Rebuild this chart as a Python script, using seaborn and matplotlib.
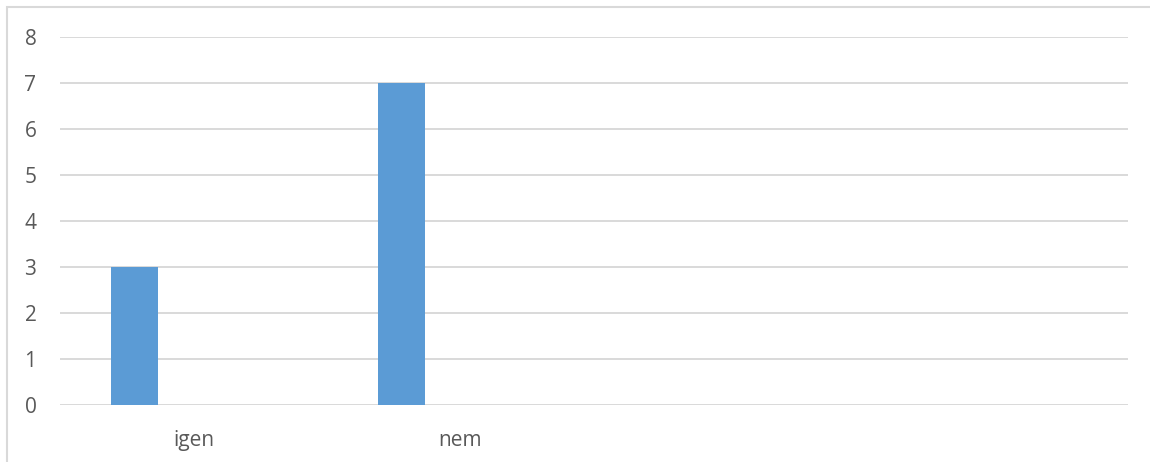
import numpy as np
import pandas as pd
import matplotlib.pyplot as plt
import seaborn as sns
from matplotlib.patches import Rectangle

categories = ["igen", "nem"]
series_names = ["Sorozat1", "Sorozat2", "Sorozat3"]
series1 = [3, 7]
series2 = [0, 0]
series3 = [0, 0]
y_ticks = [0, 1, 2, 3, 4, 5, 6, 7, 8]

df = pd.DataFrame({
    "kategoria": categories * 3,
    "sorozat": [series_names[0]] * 2 + [series_names[1]] * 2 + [series_names[2]] * 2,
    "ertek": series1 + series2 + series3,
})

sns.set_style("white")
plt.rcParams['font.family'] = ['Open Sans', 'DejaVu Sans']

fig = plt.figure(figsize=(11.5, 4.62), dpi=100)
ax = fig.add_axes([60 / 1150, 57 / 462, 1068 / 1150, 368 / 462])

bar_color = "#5b9bd5"
sns.barplot(data=df, x="kategoria", y="ertek", hue="sorozat",
            order=categories, hue_order=series_names,
            palette=[bar_color, bar_color, bar_color],
            width=0.665, gap=0.2, saturation=1, linewidth=0,
            legend=False, ax=ax)

ax.set_xlim(-0.5, 3.5)
ax.set_ylim(0, 8)
ax.set_yticks(y_ticks)
ax.yaxis.grid(True, color="#d9d9d9", linewidth=1.4)
ax.set_axisbelow(True)
sns.despine(ax=ax, left=True, bottom=True, top=True, right=True)
ax.set_xlabel("")
ax.set_ylabel("")
ax.tick_params(axis="y", length=0, pad=17, labelsize=15, labelcolor="#595959")
ax.tick_params(axis="x", length=0, pad=18, labelsize=15, labelcolor="#595959")
for lab in ax.get_yticklabels():
    lab.set_horizontalalignment("right")

# chart area border (partly cut off)
fig.add_artist(Rectangle((7 / 1150, -0.1), 1.2, (455 / 462) + 0.1,
                         transform=fig.transFigure, fill=False,
                         edgecolor="#d9d9d9", linewidth=1.5))

fig.savefig("out.png", dpi=100, facecolor="white")
